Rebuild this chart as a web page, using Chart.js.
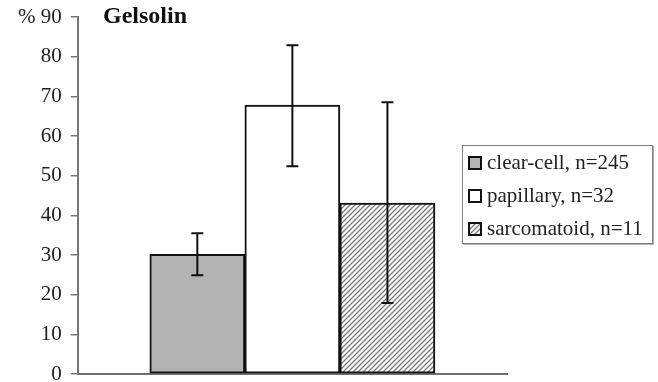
<!DOCTYPE html>
<html>
<head>
<meta charset="utf-8">
<script src="https://cdn.jsdelivr.net/npm/chart.js@4.4.1/dist/chart.umd.min.js"></script>
<style>
  html, body { margin: 0; padding: 0; background: #fff; }
  #wrap { width: 658px; height: 382px; position: relative; }
  #legend {
    position: absolute; left: 462px; top: 145px; width: 189px; height: 97px;
    border: 1px solid #808080; box-shadow: 1px 1px 0 #b0b0b0;
    font-family: "Liberation Serif", "Times New Roman", serif; font-size: 21px; color: #222;
    background: #fff;
  }
  #legend div { height: 33px; line-height: 33px; padding-left: 5px; white-space: nowrap; }
  #legend span.sw {
    display: inline-block; width: 14px; height: 14px; box-sizing: border-box;
    border: 2px solid #111; vertical-align: middle; margin: -3px 5px 0 0;
  }
</style>
</head>
<body>
<div id="wrap"><canvas id="chart"></canvas><div id="legend"></div></div>
<script>
// values (percent)
const categories = ['clear-cell, n=245', 'papillary, n=32', 'sarcomatoid, n=11'];
const means = [30.2, 67.8, 43.1];
const errLow = [24.9, 52.4, 17.9];
const errHigh = [35.5, 82.9, 68.5];
const yTicks = [0, 10, 20, 30, 40, 50, 60, 70, 80, 90];
const chartTitle = 'Gelsolin';

const serif = '"Liberation Serif", "Times New Roman", serif';

function hatchCanvas() {
  const c = document.createElement('canvas');
  c.width = 5; c.height = 5;
  const g = c.getContext('2d');
  g.fillStyle = '#fff';
  g.fillRect(0, 0, 5, 5);
  g.strokeStyle = '#7a7a7a';
  g.lineWidth = 1.3;
  g.beginPath();
  g.moveTo(0, 5); g.lineTo(5, 0);
  g.moveTo(-1, 1); g.lineTo(1, -1);
  g.moveTo(4, 6); g.lineTo(6, 4);
  g.stroke();
  return c;
}
const hatch = hatchCanvas();
const fills = ['#b3b3b3', '#ffffff', hatch.getContext('2d').createPattern(hatch, 'repeat')];
const swatchCss = ['#b3b3b3', '#ffffff', 'url(' + hatch.toDataURL() + ')'];

const datasets = categories.map((name, i) => ({
  label: name,
  data: [{ x: i + 1, y: means[i] }],
  backgroundColor: fills[i],
  borderColor: '#111',
  borderWidth: 2,
  borderSkipped: false,
  grouped: false,
  barPercentage: 1,
  categoryPercentage: 1
}));

const errorBars = {
  id: 'errorBars',
  afterDatasetsDraw(chart) {
    const ctx = chart.ctx;
    const y = chart.scales.y;
    ctx.save();
    ctx.strokeStyle = '#111';
    ctx.lineWidth = 2;
    chart.data.datasets.forEach((ds, i) => {
      const x = chart.getDatasetMeta(i).data[0].x;
      const lo = y.getPixelForValue(errLow[i]);
      const hi = y.getPixelForValue(errHigh[i]);
      ctx.beginPath();
      ctx.moveTo(x, lo); ctx.lineTo(x, hi);
      ctx.moveTo(x - 6, lo); ctx.lineTo(x + 6, lo);
      ctx.moveTo(x - 6, hi); ctx.lineTo(x + 6, hi);
      ctx.stroke();
    });
    ctx.restore();
  }
};

const titlePlugin = {
  id: 'titlePlugin',
  afterDraw(chart) {
    const ctx = chart.ctx;
    ctx.save();
    ctx.font = 'bold 24px ' + serif;
    ctx.fillStyle = '#111';
    ctx.textBaseline = 'middle';
    ctx.fillText(chartTitle, 103, chart.scales.y.getPixelForValue(90));
    ctx.restore();
  }
};

// html legend built from the datasets
const htmlLegend = {
  id: 'htmlLegend',
  afterUpdate(chart) {
    const box = document.getElementById('legend');
    box.innerHTML = '';
    chart.data.datasets.forEach((ds, i) => {
      const row = document.createElement('div');
      const sw = document.createElement('span');
      sw.className = 'sw';
      sw.style.background = swatchCss[i];
      row.appendChild(sw);
      row.appendChild(document.createTextNode(ds.label));
      box.appendChild(row);
    });
  }
};

new Chart(document.getElementById('chart'), {
  type: 'bar',
  data: { datasets },
  options: {
    responsive: true,
    maintainAspectRatio: false,
    animation: false,
    layout: { padding: { top: 0, left: 9, right: 151, bottom: 0 } },
    plugins: {
      tooltip: { enabled: false },
      legend: { display: false }
    },
    scales: {
      x: {
        type: 'linear',
        min: -0.258,
        max: 4.258,
        afterBuildTicks(axis) { axis.ticks = []; },
        ticks: { display: false },
        grid: { display: false },
        border: { display: true, color: '#707070', width: 2 }
      },
      y: {
        min: 0,
        max: 90,
        afterBuildTicks(axis) { axis.ticks = yTicks.map(v => ({ value: v })); },
        afterFit(axis) { axis.paddingTop = 17; axis.paddingBottom = 8; },
        ticks: {
          font: { family: serif, size: 21 },
          color: '#222',
          padding: 9,
          callback: v => (v === 90 ? '% ' + v : v)
        },
        grid: { drawOnChartArea: false, drawTicks: true, tickLength: 7, color: '#777', lineWidth: 1.5 },
        border: { display: true, color: '#777', width: 2 }
      }
    }
  },
  plugins: [errorBars, titlePlugin, htmlLegend]
});
</script>
</body>
</html>
